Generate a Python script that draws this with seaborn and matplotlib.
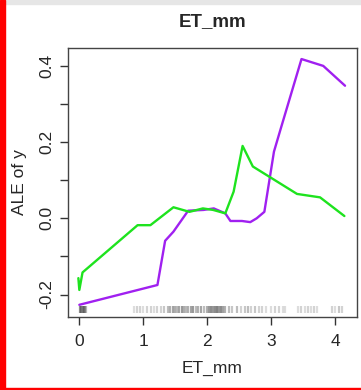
import matplotlib
matplotlib.use("Agg")
import matplotlib.pyplot as plt
import seaborn as sns
import pandas as pd
from matplotlib.patches import Rectangle

sns.set_style("white")
plt.rcParams['font.family'] = ['Liberation Sans', 'DejaVu Sans']

purple_x = [0.0, 1.22, 1.34, 1.47, 1.70, 1.94, 2.10, 2.28, 2.36, 2.54, 2.67, 2.77, 2.89, 3.04, 3.14, 3.47, 3.81, 4.15]
purple_y = [-0.227, -0.175, -0.059, -0.035, 0.020, 0.022, 0.026, 0.013, -0.007, -0.007, -0.010, 0.0, 0.017, 0.175, 0.232, 0.418, 0.400, 0.348]

green_x = [-0.015, 0.0, 0.05, 0.91, 1.11, 1.47, 1.72, 1.93, 2.09, 2.28, 2.41, 2.55, 2.71, 3.40, 3.76, 4.14]
green_y = [-0.157, -0.188, -0.142, -0.018, -0.018, 0.029, 0.017, 0.026, 0.022, 0.013, 0.070, 0.190, 0.136, 0.064, 0.055, 0.006]

rug_x = [0.01, 0.03, 0.05, 0.07, 0.09, 0.11,
         0.85, 0.90, 0.95, 1.00, 1.06, 1.12, 1.17, 1.22, 1.28, 1.33, 1.38, 1.42, 1.46, 1.50,
         1.53, 1.56, 1.60, 1.63, 1.67, 1.70, 1.74, 1.78, 1.82, 1.86, 1.90, 1.95, 1.99, 2.03,
         2.06, 2.09, 2.12, 2.15, 2.18, 2.21, 2.24, 2.28, 2.33, 2.38, 2.47, 2.52, 2.58, 2.63,
         2.68, 2.74, 2.80, 2.86, 2.92, 3.00, 3.06, 3.12, 3.18, 3.22, 3.42, 3.47, 3.52, 3.57,
         3.62, 3.67, 3.72, 3.94, 4.00, 4.05, 4.10]
rug_alpha = [0.5, 0.6, 0.6, 0.5, 0.4, 0.3,
             0.15, 0.2, 0.2, 0.15, 0.2, 0.2, 0.15, 0.2, 0.2, 0.25, 0.3, 0.35, 0.4, 0.35,
             0.3, 0.4, 0.45, 0.35, 0.3, 0.35, 0.4, 0.45, 0.3, 0.35, 0.4, 0.3, 0.35, 0.45,
             0.5, 0.45, 0.5, 0.55, 0.45, 0.5, 0.4, 0.35, 0.3, 0.25, 0.3, 0.2, 0.25, 0.3,
             0.2, 0.25, 0.2, 0.2, 0.15, 0.15, 0.2, 0.2, 0.15, 0.15, 0.15, 0.2, 0.15, 0.2,
             0.15, 0.2, 0.15, 0.2, 0.15, 0.25, 0.2]

y_ticks = [-0.2, -0.1, 0.0, 0.1, 0.2, 0.3, 0.4]
y_labels = ["-0.2", "", "0.0", "", "0.2", "", "0.4"]
x_ticks = [0, 1, 2, 3, 4]

fig = plt.figure(figsize=(3.61, 3.90), dpi=100)
ax = fig.add_axes([68/361, (390-317)/390, (357-68)/361, (317-48)/390])

df_p = pd.DataFrame({"x": purple_x, "y": purple_y})
df_g = pd.DataFrame({"x": green_x, "y": green_y})
sns.lineplot(data=df_p, x="x", y="y", ax=ax, color="#a020f0", lw=1.7, sort=False, estimator=None)
sns.lineplot(data=df_g, x="x", y="y", ax=ax, color="#1ee31e", lw=1.7, sort=False, estimator=None)

for rx, ra in zip(rug_x, rug_alpha):
    ax.vlines(rx, -0.2487, -0.230, color="#555555", alpha=min(1.0, ra * 1.3), lw=1.6)

ax.set_xlim(-0.177, 4.337)
ax.set_ylim(-0.259, 0.447)
ax.set_xticks(x_ticks)
ax.set_xticklabels([str(t) for t in x_ticks])
ax.set_yticks(y_ticks)
ax.set_yticklabels(y_labels, rotation=90, va="center")
ax.tick_params(axis="both", direction="out", length=6, width=1, labelsize=12.5, color="#333333", left=True, bottom=True)
ax.tick_params(axis="x", pad=6)
ax.tick_params(axis="y", pad=4)
for s in ax.spines.values():
    s.set_color("#444444")
    s.set_linewidth(1.0)
ax.set_xlabel("ET_mm", fontsize=12.5, labelpad=9)
ax.set_ylabel("ALE of y", fontsize=12.5, labelpad=9)
ax.set_title("ET_mm", fontsize=13.5, fontweight="bold", pad=16)

fig.patches.append(Rectangle((0, 0), 5/361, 1, transform=fig.transFigure, color="red", zorder=10))
fig.patches.append(Rectangle((0, 0), 1, 2.5/390, transform=fig.transFigure, color="red", zorder=10))
fig.patches.append(Rectangle((5/361, 1 - 4/390), 1, 4/390, transform=fig.transFigure, color="#e6e6e6", zorder=9))

fig.savefig("out.png", dpi=100)
